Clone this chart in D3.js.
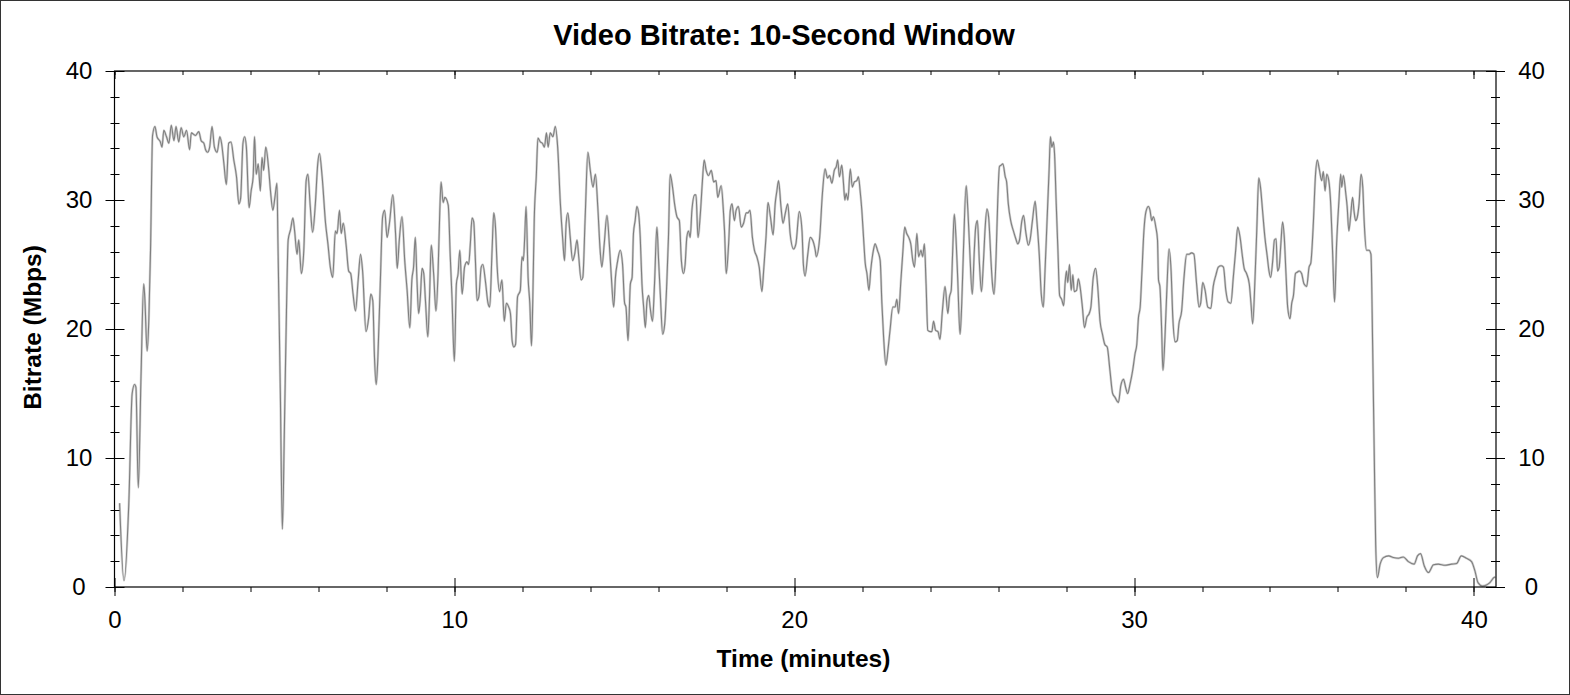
<!DOCTYPE html>
<html>
<head>
<meta charset="utf-8">
<script src="https://cdn.jsdelivr.net/npm/d3@7"></script>
<style>
    body { margin: 0; background: #fff; }
    text { font-family: "Liberation Sans", Arial, sans-serif; fill: #000; }
</style>
</head>
<body>
<div id="chart"></div>
<script>
// time (minutes) and 10-second-window bitrate (Mbps)
let minutes = [
    0.15, 0.28, 0.42, 0.52, 0.59, 0.63, 0.70, 0.78, 0.86, 0.89, 0.96, 1.01, 1.06, 1.12, 1.19, 1.25, 1.35, 1.40, 1.45, 1.53,
    1.60, 1.67, 1.75, 1.81, 1.89, 1.96, 2.04, 2.12, 2.21, 2.26, 2.38, 2.48, 2.55, 2.63, 2.68, 2.74, 2.80, 2.87, 2.94, 3.02,
    3.10, 3.15, 3.22, 3.29, 3.36, 3.43, 3.51, 3.59, 3.66, 3.71, 3.78, 3.83, 3.88, 3.96, 4.02, 4.08, 4.12, 4.17, 4.23, 4.29,
    4.34, 4.39, 4.45, 4.54, 4.59, 4.66, 4.72, 4.78, 4.81, 4.88, 4.94, 5.00, 5.06, 5.11, 5.18,
    5.25, 5.30, 5.37, 5.42, 5.50, 5.57, 5.64, 5.69, 5.76, 5.83, 5.91, 5.98, 6.03, 6.11, 6.21, 6.28, 6.35, 6.42, 6.50, 6.55,
    6.62, 6.67, 6.73, 6.82, 6.89, 6.95, 7.02, 7.09, 7.17, 7.24, 7.30, 7.40, 7.48, 7.54, 7.60, 7.65, 7.70, 7.75, 7.82, 7.89,
    7.95, 8.02, 8.09, 8.19, 8.27, 8.32, 8.38, 8.46, 8.54, 8.61, 8.69, 8.75, 8.80, 8.85, 8.90, 8.95, 9.00, 9.05, 9.10, 9.15,
    9.22, 9.27, 9.32, 9.39, 9.46, 9.52, 9.57, 9.61, 9.67, 9.72, 9.82, 9.88, 9.93, 10.00, 10.06, 10.11, 10.16, 10.23, 10.30,
    10.37, 10.42, 10.47, 10.52, 10.57, 10.62, 10.67, 10.72, 10.79, 10.84, 10.91, 10.99, 11.04, 11.11, 11.16, 11.21, 11.26, 11.33, 11.40, 11.47,
    11.53, 11.60, 11.65, 11.70, 11.75, 11.80, 11.86, 11.94, 11.99, 12.03, 12.07, 12.11, 12.17, 12.22, 12.27, 12.31, 12.35, 12.41, 12.46, 12.53,
    12.59, 12.65, 12.71, 12.76, 12.82, 12.90, 12.97, 13.04, 13.12, 13.19, 13.24, 13.29, 13.34, 13.41, 13.48, 13.54, 13.61, 13.66, 13.73, 13.78,
    13.85, 13.93, 14.00, 14.08, 14.15, 14.22, 14.29, 14.34, 14.41, 14.49, 14.56, 14.62, 14.69, 14.74, 14.80, 14.88, 14.95, 15.01, 15.05, 15.11,
    15.18, 15.23, 15.27, 15.32, 15.37, 15.42, 15.47,
    15.52, 15.57, 15.62, 15.67, 15.72, 15.76, 15.83, 15.89, 15.96, 16.01, 16.06, 16.13, 16.19, 16.25, 16.30, 16.35, 16.42, 16.48, 16.55, 16.62,
    16.68, 16.74, 16.79, 16.84, 16.89, 16.94, 16.99, 17.07, 17.11, 17.17, 17.24, 17.30, 17.35, 17.41, 17.48, 17.56, 17.63, 17.70, 17.75, 17.85,
    17.92, 17.95, 18.00, 18.07, 18.12, 18.17, 18.24, 18.29, 18.36, 18.44, 18.51, 18.59, 18.64, 18.70, 18.77, 18.83, 18.90, 18.97, 19.05, 19.10,
    19.17, 19.23, 19.30, 19.38, 19.44, 19.49, 19.54, 19.61, 19.67, 19.74, 19.81, 19.88, 19.98, 20.05, 20.15, 20.23, 20.27, 20.32, 20.40, 20.47,
    20.54, 20.62,
    20.65, 20.75, 20.83, 20.91, 20.98, 21.04, 21.11, 21.18, 21.24, 21.28, 21.33, 21.40, 21.45, 21.49, 21.53, 21.58, 21.65, 21.71, 21.77, 21.84,
    21.89, 21.94, 21.99, 22.04, 22.09, 22.14, 22.20, 22.25, 22.33, 22.38, 22.45, 22.53, 22.58, 22.63, 22.70, 22.76, 22.82, 22.90, 22.97, 23.02,
    23.07, 23.14, 23.20, 23.25, 23.31, 23.37, 23.43, 23.49, 23.54, 23.61, 23.66, 23.73, 23.78, 23.83, 23.88, 23.93, 24.00, 24.05, 24.10, 24.16,
    24.23, 24.29, 24.36, 24.44, 24.52, 24.57, 24.62, 24.66, 24.71, 24.76, 24.81, 24.88, 24.93, 24.98, 25.06, 25.11, 25.16, 25.24, 25.30, 25.34,
    25.39, 25.45, 25.51, 25.57, 25.62, 25.67, 25.72, 25.76,
    25.79, 25.84, 25.88, 25.94, 25.99, 26.04, 26.09, 26.14, 26.21, 26.25, 26.30, 26.37, 26.45, 26.52, 26.58, 26.63, 26.70, 26.75, 26.81, 26.89,
    26.94, 27.01, 27.09, 27.14, 27.21, 27.27, 27.33, 27.38, 27.44, 27.50, 27.54, 27.58, 27.63, 27.66, 27.71, 27.76, 27.81, 27.87, 27.93, 27.97,
    28.01, 28.05, 28.10, 28.15, 28.20, 28.24, 28.31, 28.36, 28.41, 28.48, 28.54, 28.61, 28.68, 28.73, 28.80, 28.87, 28.93, 29.00, 29.07, 29.14,
    29.21, 29.29, 29.37, 29.44, 29.54, 29.61, 29.69, 29.75, 29.81, 29.88, 29.96, 30.03, 30.08, 30.13, 30.18, 30.23, 30.29, 30.35, 30.42, 30.47,
    30.52, 30.57, 30.64, 30.69, 30.72, 30.76, 30.81, 30.85,
    30.91, 30.96, 31.03, 31.09, 31.14, 31.21, 31.27, 31.32, 31.40, 31.47, 31.55, 31.62, 31.69, 31.76, 31.84, 31.91, 31.96, 32.02, 32.09, 32.17,
    32.26, 32.33, 32.41, 32.48, 32.56, 32.63, 32.70, 32.77, 32.85, 32.92, 32.99, 33.05, 33.12, 33.19, 33.24, 33.31, 33.39, 33.44, 33.49, 33.56,
    33.61, 33.67, 33.72, 33.78, 33.85, 33.92, 33.97, 34.02, 34.08, 34.13, 34.18, 34.22, 34.27, 34.32, 34.37, 34.42, 34.47, 34.52, 34.59, 34.64,
    34.69, 34.75, 34.80, 34.86, 34.93, 35.00, 35.08, 35.15, 35.20, 35.27, 35.34, 35.39, 35.45, 35.52, 35.57, 35.62, 35.67, 35.73, 35.79, 35.84,
    35.90, 35.96, 36.03,
    36.08, 36.11, 36.16, 36.23, 36.27, 36.32, 36.37, 36.43, 36.47, 36.52, 36.57, 36.62, 36.68, 36.73, 36.77, 36.84, 36.91, 36.97, 37.02, 37.07,
    37.11, 37.16, 37.24, 37.34, 37.49, 37.63, 37.78, 37.92, 38.07, 38.24, 38.34, 38.43, 38.54, 38.66, 38.81, 38.95, 39.15, 39.34, 39.49, 39.63,
    39.78, 39.93, 40.03, 40.12, 40.25, 40.37, 40.47, 40.59, 40.63
];

let mbps = [
    6.5, 0.5, 6.4, 15.0, 15.7, 15.5, 7.7, 16.3, 23.5, 22.5, 18.3, 20.7, 26.1, 35.0, 35.7, 34.9, 34.5, 34.1, 35.4, 34.9,
    34.4, 35.8, 34.6, 35.7, 34.5, 35.6, 34.9, 35.4, 33.9, 35.2, 35.0, 35.3, 34.6, 34.4, 33.9, 33.7, 34.1, 35.7, 34.1, 33.7,
    34.9, 34.4, 32.8, 31.2, 34.4, 34.5, 33.1, 31.8, 29.7, 30.1, 34.4, 34.9, 34.1, 29.4, 30.7, 31.8, 34.9, 32.0, 32.8, 30.7,
    33.3, 32.3, 34.1, 32.3, 30.7, 29.2, 30.2, 31.3, 26.6, 15.0, 4.5, 12.4, 21.4, 26.9, 27.7,
    28.6, 27.6, 25.8, 26.9, 24.3, 26.1, 31.5, 32.0, 29.5, 27.5, 29.7, 32.8, 33.6, 31.8, 28.2, 26.6, 24.8, 24.0, 27.6, 27.4,
    29.2, 27.4, 28.2, 26.4, 24.5, 24.3, 22.7, 21.4, 23.8, 25.8, 24.5, 19.8, 20.9, 22.7, 22.2, 17.8, 15.7, 17.8, 23.5, 28.7,
    29.2, 27.1, 28.2, 30.4, 27.4, 24.7, 26.9, 28.7, 25.3, 23.0, 20.1, 23.8, 24.8, 27.1, 23.8, 21.2, 22.5, 24.7, 24.3, 22.2,
    19.4, 22.5, 26.5, 24.3, 21.4, 24.3, 29.0, 31.4, 29.8, 30.2, 29.6, 25.6, 22.5, 17.5, 23.5, 24.3, 26.1, 22.7, 24.8,
    25.2, 25.0, 26.6, 28.6, 28.3, 25.3, 22.2, 22.5, 24.8, 25.0, 23.8, 22.0, 21.7, 26.1, 29.0, 27.9, 24.8, 22.9, 23.8, 20.6,
    22.0, 21.7, 21.2, 19.1, 18.6, 18.8, 22.5, 23.0, 25.6, 25.3, 27.1, 29.5, 24.0, 22.0, 18.7, 22.5, 28.4, 31.8, 34.8, 34.5,
    34.4, 34.1, 35.2, 34.1, 35.2, 34.9, 35.7, 34.1, 29.7, 26.9, 25.3, 28.2, 29.0, 27.1, 25.3, 25.8, 26.9, 25.6, 23.8, 24.0,
    28.7, 33.7, 32.3, 31.0, 32.0, 29.5, 26.1, 24.8, 26.6, 28.8, 26.6, 24.0, 21.7, 24.0, 25.2, 26.1, 25.0, 22.0, 21.7, 19.1,
    23.5, 24.0, 27.4, 28.4, 29.5, 29.0, 27.1,
    23.5, 21.7, 20.1, 22.2, 22.6, 21.7, 20.6, 23.5, 27.9, 25.3, 22.7, 19.6, 20.4, 23.5, 27.1, 32.0, 31.0, 29.7, 28.7, 28.4,
    25.3, 24.3, 25.0, 27.1, 27.6, 27.1, 29.2, 30.4, 30.4, 27.1, 29.0, 31.5, 33.1, 32.3, 31.9, 32.3, 31.4, 31.5, 30.2, 31.1,
    29.0, 27.6, 24.3, 26.6, 29.2, 29.7, 28.4, 29.2, 29.5, 27.9, 28.2, 29.0, 29.0, 29.2, 27.1, 26.1, 25.6, 24.8, 22.9, 24.5,
    27.1, 29.8, 28.7, 27.3, 29.7, 30.7, 31.5, 29.5, 28.2, 29.0, 29.7, 27.4, 26.2, 26.6, 29.1, 27.6, 25.0, 24.1, 25.8, 27.1,
    26.9, 26.1,
    25.6, 27.1, 30.5, 32.4, 31.7, 31.9, 31.3, 32.3, 32.6, 33.1, 31.8, 32.7, 31.3, 30.0, 30.5, 30.0, 32.4, 31.0, 31.4, 31.5,
    31.8, 30.7, 29.2, 27.1, 25.1, 24.3, 23.0, 24.5, 26.1, 26.6, 26.1, 25.3, 22.0, 19.4, 17.2, 18.4, 19.9, 21.7, 21.7, 22.3,
    21.2, 23.8, 26.1, 27.9, 27.4, 27.1, 26.6, 25.3, 24.8, 27.4, 25.6, 26.1, 25.6, 26.6, 23.5, 19.9, 19.8, 19.8, 20.6, 19.9,
    19.8, 19.2, 21.4, 23.3, 21.2, 22.5, 23.0, 25.8, 28.9, 27.1, 24.0, 19.6, 22.0, 26.1, 31.1, 29.2, 26.4, 22.7, 26.1, 27.9,
    28.4, 25.1, 22.9, 25.3, 27.9, 29.3, 28.7, 26.9,
    25.3, 23.3, 22.7, 25.6, 30.0, 32.6, 32.7, 32.8, 31.8, 31.4, 29.7, 28.4, 27.6, 27.0, 26.6, 26.9, 28.4, 28.8, 27.6, 26.5,
    26.9, 28.4, 29.9, 28.4, 25.8, 22.7, 21.7, 24.5, 28.4, 32.3, 34.9, 34.1, 34.5, 33.6, 29.7, 26.1, 22.6, 22.3, 21.8, 23.5,
    24.5, 23.6, 25.0, 23.0, 24.2, 22.9, 23.0, 23.9, 23.3, 21.7, 20.1, 20.9, 21.2, 21.7, 24.0, 24.7, 23.3, 20.6, 19.6, 18.8,
    18.6, 16.8, 15.0, 14.7, 14.3, 15.6, 16.1, 15.5, 15.0, 15.7, 16.8, 18.1, 18.8, 20.9, 21.7, 24.3, 27.6, 29.1, 29.5, 29.2,
    28.4, 28.7, 27.9, 26.9, 23.8, 23.3, 20.1, 16.8,
    19.4, 22.7, 26.2, 24.5, 20.9, 19.0, 19.1, 20.4, 21.4, 24.0, 25.8, 25.8, 25.9, 25.8, 23.5, 21.7, 22.0, 23.6, 23.0, 21.7,
    21.6, 23.3, 24.2, 24.8, 24.9, 24.8, 23.0, 22.1, 22.0, 24.0, 26.1, 27.9, 27.1, 25.6, 24.7, 24.3, 23.5, 22.0, 20.4, 24.0,
    27.6, 31.7, 31.0, 29.2, 27.1, 25.6, 24.5, 24.0, 25.3, 26.9, 27.0, 24.5, 24.8, 26.6, 28.3, 27.1, 24.3, 21.7, 20.8, 22.0,
    22.6, 24.3, 24.4, 24.5, 24.3, 23.5, 23.3, 24.8, 25.1, 27.9, 32.0, 33.1, 32.4, 31.5, 32.2, 30.7, 32.0, 31.5, 29.5, 26.1,
    22.1, 26.6, 30.0,
    32.0, 31.0, 31.9, 30.5, 29.5, 27.6, 28.7, 30.2, 29.2, 28.4, 28.7, 29.7, 32.0, 31.0, 28.4, 26.1, 26.1, 25.8, 18.8, 9.8,
    3.3, 0.73, 1.77, 2.28, 2.41, 2.28, 2.23, 2.33, 1.97, 1.77, 2.41, 2.59, 1.63, 1.12, 1.72, 1.77, 1.69, 1.77, 1.82, 2.41,
    2.23, 1.97, 1.25, 0.34, 0.08, 0.16, 0.34, 0.73, 0.78
];

let xMajorTicks = [0, 10, 20, 30, 40];
let yMajorTicks = [0, 10, 20, 30, 40];

let titleText = "Video Bitrate: 10-Second Window";
let xLabel = "Time (minutes)";
let yLabel = "Bitrate (Mbps)";

let series = minutes.map((m, i) => ({ t: m, v: mbps[i] }));

let W = 1570, H = 695;
let margin = { top: 71, right: 74, bottom: 108, left: 114.5 };
let width = W - margin.left - margin.right;
let height = H - margin.top - margin.bottom;

let svg = d3.select("#chart").append("svg")
    .attr("width", W)
    .attr("height", H);

// outer frame
svg.append("rect")
    .attr("x", 0.5).attr("y", 0.5)
    .attr("width", W - 1).attr("height", H - 1)
    .attr("fill", "#fff")
    .attr("stroke", "#333")
    .attr("stroke-width", 1);

let g = svg.append("g")
    .attr("transform", "translate(" + margin.left + "," + margin.top + ")");

// scales
let x = d3.scaleLinear().domain([0, 40.65]).range([0, width]);
let y = d3.scaleLinear().domain([0, 40]).range([height, 0]);

let xMinor = d3.range(0, 41, 2);
let yMinor = d3.range(0, 41, 2);

// the line
let line = d3.line()
    .x(d => x(d.t))
    .y(d => y(d.v))
    .curve(d3.curveMonotoneX);

g.append("path")
    .datum(series)
    .attr("d", line)
    .attr("fill", "none")
    .attr("stroke", "#d2d2d2")
    .attr("stroke-width", 2.4);

g.append("path")
    .datum(series)
    .attr("d", line)
    .attr("fill", "none")
    .attr("stroke", "#7f7f7f")
    .attr("stroke-width", 1.1);

// helper to draw ticks that stick out on either side of the axis
function ticksH(vals, yPos, up, down) {
    g.append("g").selectAll("line")
        .data(vals)
        .enter().append("line")
        .attr("x1", d => Math.round(x(d)) + 0.5)
        .attr("x2", d => Math.round(x(d)) + 0.5)
        .attr("y1", yPos - up)
        .attr("y2", yPos + down)
        .attr("stroke", "#000");
}
function ticksV(vals, xPos, left, right) {
    g.append("g").selectAll("line")
        .data(vals)
        .enter().append("line")
        .attr("y1", d => Math.round(y(d)) + 0.5)
        .attr("y2", d => Math.round(y(d)) + 0.5)
        .attr("x1", xPos - left)
        .attr("x2", xPos + right)
        .attr("stroke", "#000");
}

// bottom
ticksH(xMinor, height, 0, 5);
ticksH(xMajorTicks, height, 9, 9);
// top
ticksH(xMinor, 0, 0, 4);
ticksH(xMajorTicks, 0, 0, 8);
// left
ticksV(yMinor, 0, 4, 5);
ticksV(yMajorTicks, 0, 9, 10);
// right
ticksV(yMinor, width, 5, 4);
ticksV(yMajorTicks, width, 10, 9);

// plot frame
g.append("rect")
    .attr("x", 0).attr("y", 0)
    .attr("width", width).attr("height", height)
    .attr("fill", "none")
    .attr("stroke", "#000")
    .attr("stroke-width", 1.2);

// tick labels (through axis generators, lines hidden)
let xAxis = d3.axisBottom(x).tickValues(xMajorTicks).tickSize(0).tickPadding(24).tickFormat(d3.format("d"));
let xg = g.append("g").attr("transform", "translate(0," + height + ")").call(xAxis);
let yAxisL = d3.axisLeft(y).tickValues(yMajorTicks).tickSize(0).tickPadding(0).tickFormat(d3.format("d"));
let ylg = g.append("g").call(yAxisL);
let yAxisR = d3.axisRight(y).tickValues(yMajorTicks).tickSize(0).tickPadding(0).tickFormat(d3.format("d"));
let yrg = g.append("g").attr("transform", "translate(" + width + ",0)").call(yAxisR);

[xg, ylg, yrg].forEach(a => {
    a.select(".domain").remove();
    a.selectAll("text")
        .style("font-family", "'Liberation Sans', Arial, sans-serif")
        .style("font-size", "24px")
        .attr("fill", "#000");
});
// side labels sit centred in their gutters
ylg.selectAll("text").attr("text-anchor", "middle").attr("x", -35.5);
yrg.selectAll("text").attr("text-anchor", "middle").attr("x", 35.5);

// title and axis titles
svg.append("text")
    .attr("x", 784)
    .attr("y", 45)
    .attr("text-anchor", "middle")
    .style("font-size", "29px")
    .style("font-weight", "bold")
    .text(titleText);

svg.append("text")
    .attr("x", 803.5)
    .attr("y", 667)
    .attr("text-anchor", "middle")
    .style("font-size", "24.5px")
    .style("font-weight", "bold")
    .text(xLabel);

svg.append("text")
    .attr("transform", "translate(41," + 327.5 + ") rotate(-90)")
    .attr("text-anchor", "middle")
    .style("font-size", "24.5px")
    .style("font-weight", "bold")
    .text(yLabel);
</script>
</body>
</html>
